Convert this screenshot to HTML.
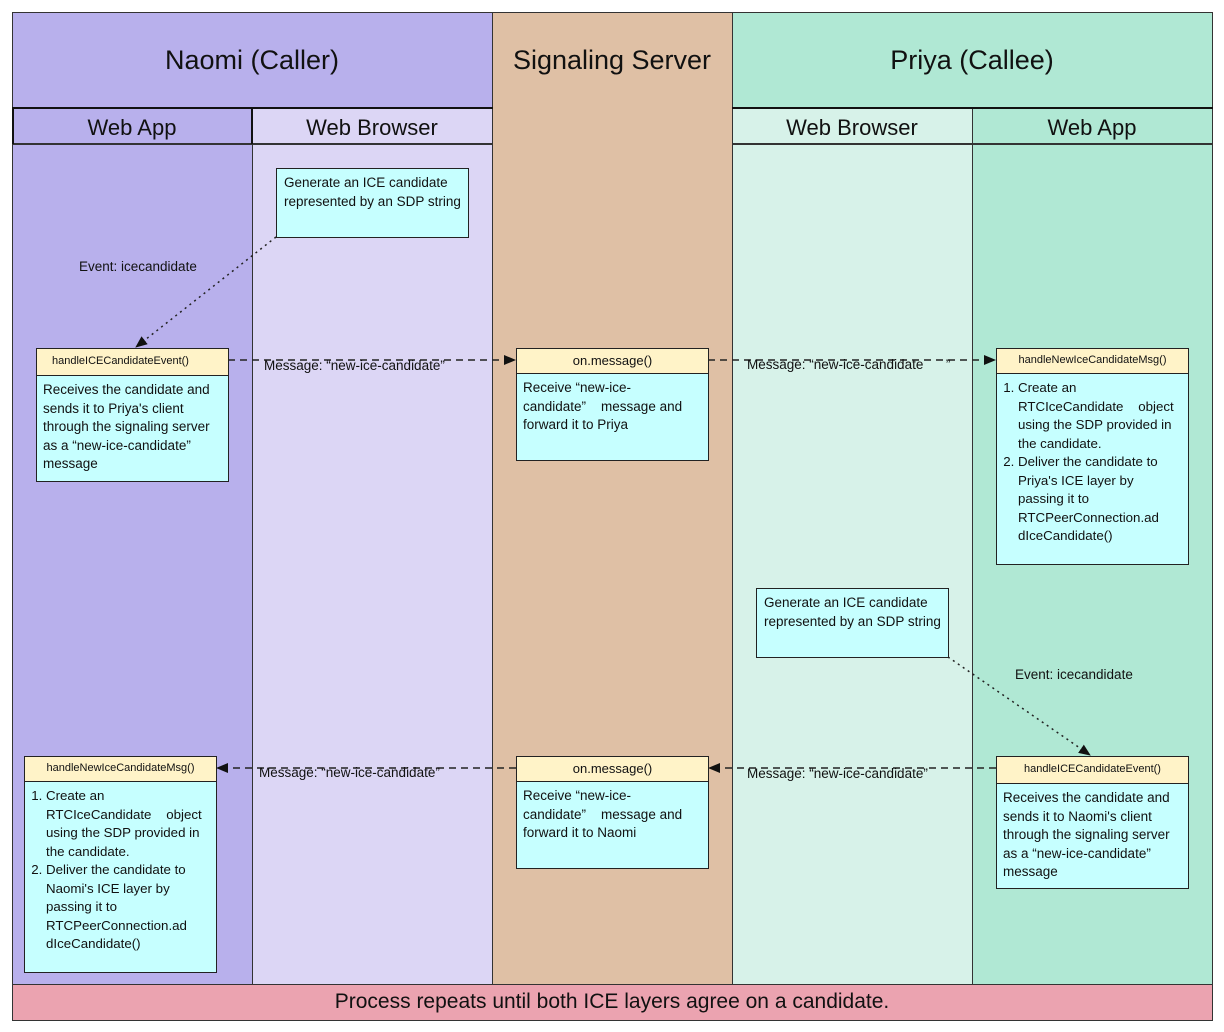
<!DOCTYPE html>
<html><head><meta charset="utf-8"><style>
body{margin:0;width:1224px;height:1032px;background:#fff;position:relative;font-family:"Liberation Sans",sans-serif;overflow:hidden}
.a{position:absolute;box-sizing:border-box}
.col{border:1.5px solid #333}
.t{display:flex;align-items:center;justify-content:center;color:#111}
.box{position:absolute;box-sizing:border-box;border:1.5px solid #222;background:#c6ffff;font-size:13.5px;line-height:18.5px;color:#111}
.hd{background:#fff3c8;border-bottom:1.5px solid #222;font-size:11px;text-align:center;height:24px;line-height:23px}
.bd{padding:5px 6px}
ol{margin:0;padding-left:15px}
.lbl{position:absolute;font-size:13.5px;color:#111;white-space:nowrap}
</style></head><body>
<div class="a col" style="left:12px;top:12px;width:481px;height:973px;background:#b8b0ec"></div>
<div class="a col" style="left:252px;top:108px;width:241px;height:877px;background:#dcd6f5"></div>
<div class="a col" style="left:492px;top:12px;width:241px;height:973px;background:#dfc0a5"></div>
<div class="a col" style="left:732px;top:12px;width:481px;height:973px;background:#b0e8d4"></div>
<div class="a col" style="left:732px;top:108px;width:241px;height:877px;background:#d7f2e9"></div>
<div class="a" style="left:12px;top:107px;width:481px;height:2px;background:#111"></div>
<div class="a" style="left:732px;top:107px;width:481px;height:2px;background:#111"></div>
<div class="a" style="left:12px;top:143px;width:481px;height:1.5px;background:#333"></div>
<div class="a" style="left:732px;top:143px;width:481px;height:1.5px;background:#333"></div>
<div class="a" style="left:12px;top:108px;width:2px;height:36px;background:#111"></div>
<div class="a" style="left:251px;top:108px;width:2px;height:36px;background:#111"></div>
<div class="a col" style="left:12px;top:984px;width:1201px;height:37px;background:#eba3b0"></div>
<div class="a t" style="left:12px;top:12px;width:480px;height:96px;font-size:27px">Naomi (Caller)</div>
<div class="a t" style="left:492px;top:12px;width:240px;height:96px;font-size:27px">Signaling Server</div>
<div class="a t" style="left:732px;top:12px;width:480px;height:96px;font-size:27px">Priya (Callee)</div>
<div class="a t" style="left:12px;top:110px;width:240px;height:36px;font-size:22px">Web App</div>
<div class="a t" style="left:252px;top:110px;width:240px;height:36px;font-size:22px">Web Browser</div>
<div class="a t" style="left:732px;top:110px;width:240px;height:36px;font-size:22px">Web Browser</div>
<div class="a t" style="left:972px;top:110px;width:240px;height:36px;font-size:22px">Web App</div>
<div class="a t" style="left:12px;top:984px;width:1200px;height:36px;font-size:21px">Process repeats until both ICE layers agree on a candidate.</div>

<svg class="a" style="left:0;top:0" width="1224" height="1032">
<defs><marker id="m" markerWidth="12" markerHeight="10" refX="11" refY="5" orient="auto" markerUnits="userSpaceOnUse"><path d="M0,0 L12,5 L0,10z" fill="#111"/></marker></defs>
<g stroke="#222" stroke-width="1.5" fill="none">
<path d="M276,237 L136,347" stroke-dasharray="2,4" marker-end="url(#m)"/>
<path d="M948,657 L1090,755" stroke-dasharray="2,4" marker-end="url(#m)"/>
<path d="M228,360 L515,360" stroke-dasharray="7,5" marker-end="url(#m)"/>
<path d="M708,360 L995,360" stroke-dasharray="7,5" marker-end="url(#m)"/>
<path d="M996,768 L709,768" stroke-dasharray="7,5" marker-end="url(#m)"/>
<path d="M516,768 L217,768" stroke-dasharray="7,5" marker-end="url(#m)"/>
</g></svg>

<div class="lbl" style="left:79px;top:259px">Event: icecandidate</div>
<div class="lbl" style="left:1015px;top:667px">Event: icecandidate</div>
<div class="lbl" style="left:264px;top:358px">Message: “new-ice-candidate”</div>
<div class="lbl" style="left:747px;top:357px">Message: “new-ice-candidate&nbsp;&nbsp;&nbsp;&nbsp;&nbsp;&nbsp;”</div>
<div class="lbl" style="left:747px;top:766px">Message: “new-ice-candidate”</div>
<div class="lbl" style="left:259px;top:765px">Message: “new-ice-candidate”</div>

<div class="box" style="left:276px;top:168px;width:193px;height:70px"><div class="bd" style="padding:5px 7px">Generate an ICE candidate represented by an SDP string</div></div>
<div class="box" style="left:756px;top:588px;width:193px;height:70px"><div class="bd" style="padding:5px 7px">Generate an ICE candidate represented by an SDP string</div></div>

<div class="box" style="left:36px;top:348px;width:193px;height:134px"><div class="hd" style="height:26px;line-height:24px;text-align:left;padding-left:15px">handleICECandidateEvent()</div><div class="bd">Receives the candidate and sends it to Priya's client through the signaling server as a “new-ice-candidate”&nbsp;&nbsp;&nbsp; message</div></div>
<div class="box" style="left:996px;top:756px;width:193px;height:133px"><div class="hd" style="height:26px;line-height:24px">handleICECandidateEvent()</div><div class="bd">Receives the candidate and sends it to Naomi's client through the signaling server as a “new-ice-candidate”&nbsp;&nbsp;&nbsp; message</div></div>

<div class="box" style="left:516px;top:348px;width:193px;height:113px"><div class="hd" style="font-size:13px">on.message()</div><div class="bd">Receive “new-ice-candidate”&nbsp;&nbsp;&nbsp; message and forward it to Priya</div></div>
<div class="box" style="left:516px;top:756px;width:193px;height:113px"><div class="hd" style="font-size:13px">on.message()</div><div class="bd">Receive “new-ice-candidate”&nbsp;&nbsp;&nbsp; message and forward it to Naomi</div></div>

<div class="box" style="left:996px;top:348px;width:193px;height:217px"><div class="hd">handleNewIceCandidateMsg()</div><div class="bd" style="font-size:13.3px"><ol><li>Create an RTCIceCandidate&nbsp;&nbsp;&nbsp; object using the SDP provided in the candidate.</li><li>Deliver the candidate to Priya's ICE layer by passing it to RTCPeerConnection.ad dIceCandidate()</li></ol></div></div>
<div class="box" style="left:24px;top:756px;width:193px;height:217px"><div class="hd">handleNewIceCandidateMsg()</div><div class="bd" style="font-size:13.3px"><ol><li>Create an RTCIceCandidate&nbsp;&nbsp;&nbsp; object using the SDP provided in the candidate.</li><li>Deliver the candidate to Naomi's ICE layer by passing it to RTCPeerConnection.ad dIceCandidate()</li></ol></div></div>
</body></html>
